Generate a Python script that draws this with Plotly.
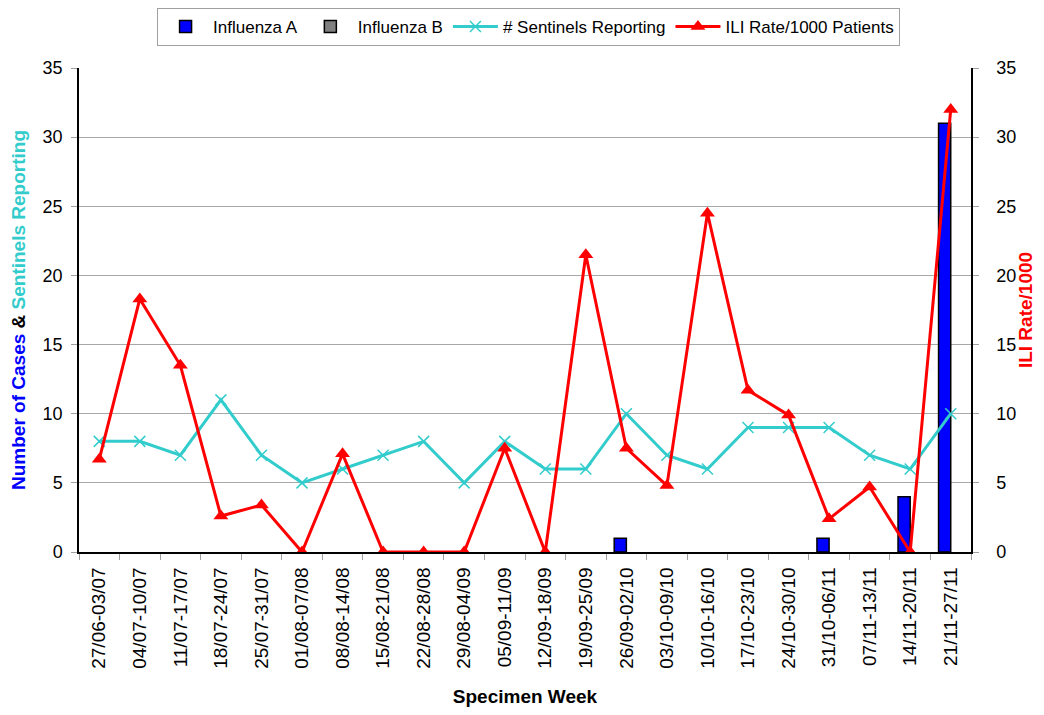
import plotly.graph_objects as go

weeks = ["27/06-03/07", "04/07-10/07", "11/07-17/07", "18/07-24/07", "25/07-31/07",
         "01/08-07/08", "08/08-14/08", "15/08-21/08", "22/08-28/08", "29/08-04/09",
         "05/09-11/09", "12/09-18/09", "19/09-25/09", "26/09-02/10", "03/10-09/10",
         "10/10-16/10", "17/10-23/10", "24/10-30/10", "31/10-06/11", "07/11-13/11",
         "14/11-20/11", "21/11-27/11"]
influenza_a = [0, 0, 0, 0, 0, 0, 0, 0, 0, 0, 0, 0, 0, 1, 0, 0, 0, 0, 1, 0, 4, 31]
influenza_b = [0] * 22
sentinels = [8, 8, 7, 11, 7, 5, 6, 7, 8, 5, 8, 6, 6, 10, 7, 6, 9, 9, 9, 7, 6, 10]
ili_rate = [6.7, 18.3, 13.5, 2.6, 3.4, 0, 7.1, 0, 0, 0, 7.5, 0, 21.5, 7.5, 4.8,
            24.5, 11.7, 9.9, 2.4, 4.7, 0, 32.0]

FONT = "Liberation Sans, Arial, sans-serif"
CYAN = "#33CCCC"


def hide_zero(vals):
    # zero-height bars are not drawn in the original chart
    return [v if v > 0 else None for v in vals]


fig = go.Figure()
fig.add_trace(go.Bar(x=weeks, y=hide_zero(influenza_a), name="Influenza A",
                     marker=dict(color="#0000FF", line=dict(color="#000000", width=1.5))))
fig.add_trace(go.Bar(x=weeks, y=hide_zero(influenza_b), name="Influenza B",
                     marker=dict(color="#808080", line=dict(color="#000000", width=1.5))))
fig.add_trace(go.Scatter(x=weeks, y=sentinels, name="# Sentinels Reporting",
                         mode="lines+markers",
                         line=dict(color=CYAN, width=3),
                         marker=dict(symbol="x-thin", size=11, color=CYAN,
                                     line=dict(color=CYAN, width=1.5))))
fig.add_trace(go.Scatter(x=weeks, y=ili_rate, name="ILI Rate/1000 Patients",
                         mode="lines+markers", yaxis="y2",
                         line=dict(color="#FF0000", width=3),
                         marker=dict(symbol="triangle-up", size=13, color="#FF0000")))

fig.update_layout(
    width=1028, height=699,
    margin=dict(l=71, r=65, t=60, b=155, autoexpand=False),
    paper_bgcolor="white", plot_bgcolor="white",
    font=dict(family=FONT, size=17, color="black"),
    barmode="group", bargap=0.4, bargroupgap=0,
    showlegend=True,
    legend=dict(orientation="h", x=0.504, xanchor="center", y=1.0, yanchor="top",
                yref="container",
                bordercolor="#A0A0A0", borderwidth=1, font=dict(size=17),
                traceorder="normal", itemwidth=45, tracegroupgap=0),
    xaxis=dict(type="category", range=[-0.5, 21.5], tickangle=-90,
               tickfont=dict(size=19), ticklabelstandoff=6,
               showline=True, linecolor="black", linewidth=1.5,
               ticks="outside", tickson="boundaries", tickcolor="#A0A0A0", ticklen=6,
               title=dict(text="<b>Specimen Week</b>", font=dict(size=19), standoff=31),
               showgrid=False, automargin=False),
    yaxis=dict(range=[0, 35], dtick=5, showgrid=True, gridcolor="#A8A8A8", gridwidth=1,
               showline=True, linecolor="black", linewidth=1.5,
               ticks="outside", tickcolor="#A0A0A0", ticklen=6,
               tickfont=dict(size=18), zeroline=False, automargin=False,
               ticklabelstandoff=5,
               title=dict(text="<b><span style='color:#0000FF'>Number of Cases</span> &amp; "
                               "<span style='color:#33CCCC'>Sentinels Reporting</span></b>",
                          font=dict(size=19), standoff=12)),
    yaxis2=dict(range=[0, 35], dtick=5, overlaying="y", side="right", showgrid=False,
                showline=True, linecolor="black", linewidth=1.5,
                ticks="outside", tickcolor="#A0A0A0", ticklen=6,
                tickfont=dict(size=18), zeroline=False, automargin=False,
                ticklabelstandoff=14,
                title=dict(text="<b>ILI Rate/1000</b>", font=dict(size=19, color="#FF0000"),
                           standoff=3)),
)

fig.write_html("out.html")
